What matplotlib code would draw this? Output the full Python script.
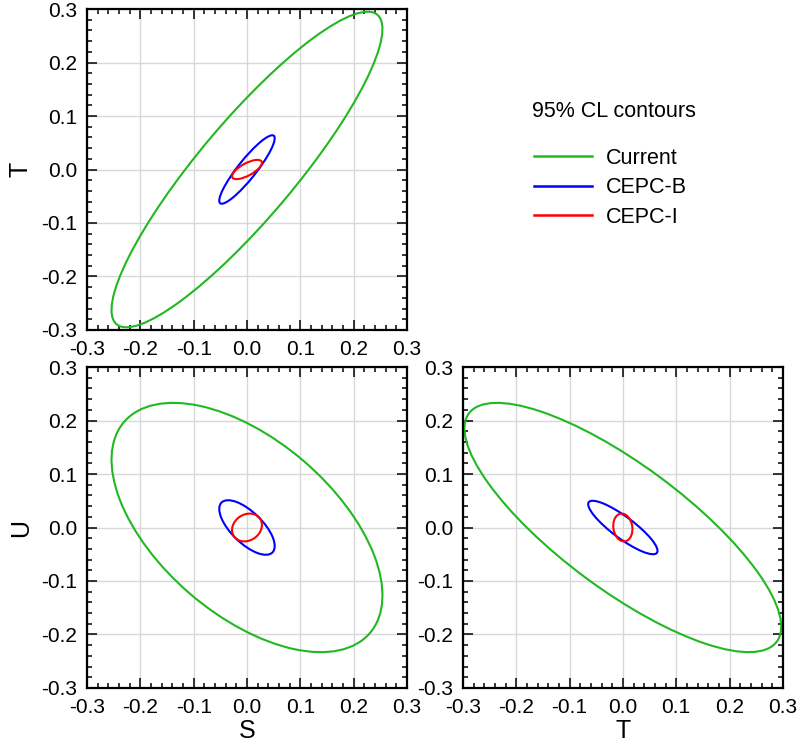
import numpy as np
import matplotlib
matplotlib.use('Agg')
import matplotlib.pyplot as plt
from matplotlib.patches import Ellipse
from matplotlib.lines import Line2D
from matplotlib.ticker import MultipleLocator

plt.rcParams['font.family'] = ['Liberation Sans', 'DejaVu Sans']

# 95% CL half-extents and correlations
labels = ['Current', 'CEPC-B', 'CEPC-I']
colors = ['#22b822', '#0000ff', '#ff0000']

# panel (S, T)
st_sx = [0.254, 0.052, 0.028]
st_sy = [0.295, 0.064, 0.018]
st_rho = [0.89, 0.91, 0.70]

# panel (S, U)
su_sx = [0.254, 0.052, 0.028]
su_sy = [0.233, 0.051, 0.026]
su_rho = [-0.545, -0.68, 0.18]

# panel (T, U)
tu_sx = [0.297, 0.065, 0.018]
tu_sy = [0.233, 0.050, 0.026]
tu_rho = [-0.795, -0.87, -0.12]

axis_ticks = [-0.3, -0.2, -0.1, 0.0, 0.1, 0.2, 0.3]


def cov_ellipse(sx, sy, rho, color):
    cov = np.array([[sx**2, rho * sx * sy], [rho * sx * sy, sy**2]])
    vals, vecs = np.linalg.eigh(cov)
    angle = np.degrees(np.arctan2(vecs[1, 1], vecs[0, 1]))
    return Ellipse((0, 0), 2 * np.sqrt(vals[1]), 2 * np.sqrt(vals[0]),
                   angle=angle, fill=False, edgecolor=color, lw=1.5)


def style_axis(ax, xlabel=None, ylabel=None):
    ax.set_xlim(-0.3, 0.3)
    ax.set_ylim(-0.3, 0.3)
    ax.set_xticks(axis_ticks)
    ax.set_yticks(axis_ticks)
    ax.set_xticklabels(['%.1f' % t for t in axis_ticks])
    ax.set_yticklabels(['%.1f' % t for t in axis_ticks])
    ax.xaxis.set_minor_locator(MultipleLocator(0.02))
    ax.yaxis.set_minor_locator(MultipleLocator(0.02))
    ax.tick_params(which='both', direction='in', top=True, right=True,
                   width=1.1, labelsize=15, pad=7)
    ax.tick_params(which='major', length=7)
    ax.tick_params(which='minor', length=3.6)
    ax.grid(True, which='major', color='#d8d8d8', lw=1.0)
    ax.set_axisbelow(True)
    for sp in ax.spines.values():
        sp.set_linewidth(1.6)
    if xlabel:
        ax.set_xlabel(xlabel, fontsize=18, labelpad=2)
    if ylabel:
        ax.set_ylabel(ylabel, fontsize=18, labelpad=6)


fig = plt.figure(figsize=(7.98, 7.51), dpi=100)
ax_st = fig.add_axes([0.109, 0.5606, 0.401, 0.4274])
ax_su = fig.add_axes([0.109, 0.0839, 0.401, 0.4274])
ax_tu = fig.add_axes([0.580, 0.0839, 0.401, 0.4274])

for ax, sx, sy, rho in [(ax_st, st_sx, st_sy, st_rho),
                        (ax_su, su_sx, su_sy, su_rho),
                        (ax_tu, tu_sx, tu_sy, tu_rho)]:
    for i in range(len(labels)):
        ax.add_patch(cov_ellipse(sx[i], sy[i], rho[i], colors[i]))

style_axis(ax_st, ylabel='T')
style_axis(ax_su, xlabel='S', ylabel='U')
style_axis(ax_tu, xlabel='T')

fig.text(0.667, 0.851, '95% CL contours', fontsize=15.5, ha='left', va='center')
handles = [Line2D([], [], color=c, lw=1.8) for c in colors]
fig.legend(handles, labels, loc='upper left', bbox_to_anchor=(0.645, 0.829),
           frameon=False, fontsize=15.5, handlelength=2.7, handletextpad=0.65,
           labelspacing=0.4)

plt.savefig('out.png', dpi=100)
